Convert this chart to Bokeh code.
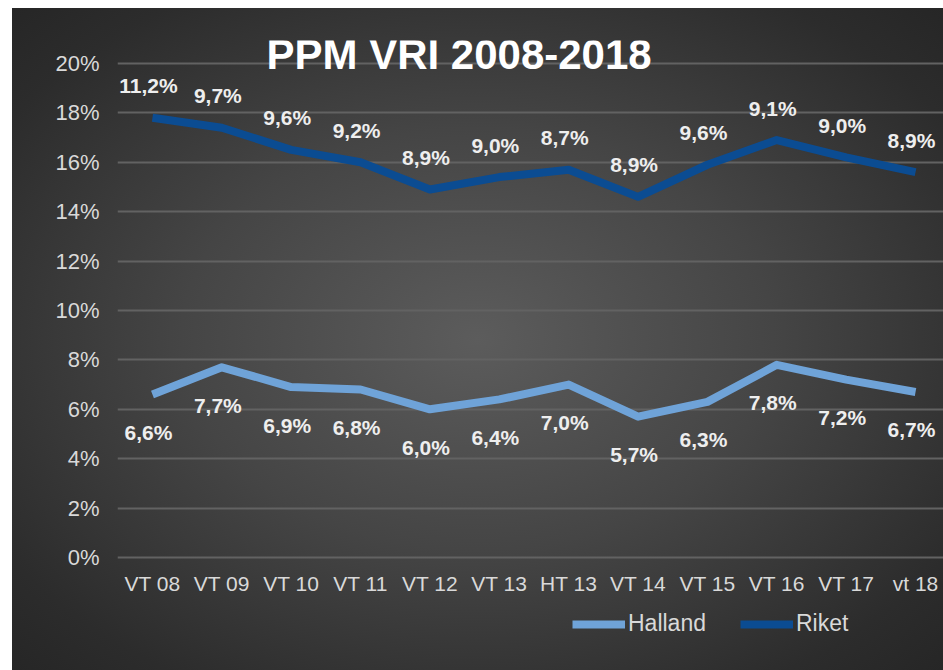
from bokeh.plotting import figure
from bokeh.models import (Range1d, FixedTicker, LabelSet, Label, Legend,
                          ColumnDataSource, PrintfTickFormatter)
from bokeh.core.properties import value
from bokeh.embed import file_html
from bokeh.resources import INLINE

# ---- data ----
categories = ["VT 08", "VT 09", "VT 10", "VT 11", "VT 12", "VT 13",
              "HT 13", "VT 14", "VT 15", "VT 16", "VT 17", "vt 18"]
halland = [6.6, 7.7, 6.9, 6.8, 6.0, 6.4, 7.0, 5.7, 6.3, 7.8, 7.2, 6.7]
riket = [17.8, 17.4, 16.5, 16.0, 14.9, 15.4, 15.7, 14.6, 15.9, 16.9, 16.2, 15.6]
riket_labels = ["11,2%", "9,7%", "9,6%", "9,2%", "8,9%", "9,0%",
                "8,7%", "8,9%", "9,6%", "9,1%", "9,0%", "8,9%"]
halland_labels = [f"{v:.1f}".replace(".", ",") + "%" for v in halland]
y_ticks = list(range(0, 21, 2))
title_text = "PPM VRI 2008-2018"

xs = list(range(len(categories)))

FONT = "Liberation Sans"
TICK_COLOR = "#d9d9d9"

p = figure(width=931, height=662, output_backend="svg", toolbar_location=None,
           x_range=Range1d(-0.504, 11.403), y_range=Range1d(-4.575, 20.93),
           min_border_left=105, min_border_right=0, min_border_top=32,
           min_border_bottom=0)
p.styles = {
    "margin-left": "12px",
    "margin-top": "8px",
    "background": "radial-gradient(ellipse farthest-corner at 50% 50%, "
                  "#5c5c5c 0%, #454545 45%, #2c2c2c 85%, #262626 100%)",
}
p.background_fill_alpha = 0
p.border_fill_alpha = 0
p.outline_line_color = None

# grid
p.xgrid.visible = False
p.ygrid.ticker = FixedTicker(ticks=y_ticks)
p.ygrid.grid_line_color = "#626262"
p.ygrid.grid_line_width = 2

# axes
p.yaxis.ticker = FixedTicker(ticks=y_ticks)
p.yaxis.formatter = PrintfTickFormatter(format="%d%%")
p.xaxis.ticker = FixedTicker(ticks=xs)
p.xaxis.major_label_overrides = {i: c for i, c in zip(xs, categories)}
p.xaxis.fixed_location = 0
for ax in (p.xaxis, p.yaxis):
    ax.axis_line_color = None
    ax.major_tick_line_color = None
    ax.minor_tick_line_color = None
    ax.major_tick_out = 0
    ax.major_tick_in = 0
    ax.major_label_text_color = TICK_COLOR
    ax.major_label_text_font = FONT
    ax.major_label_text_font_size = "21px"
p.yaxis.major_label_text_font_size = "22px"
p.yaxis.major_label_standoff = 18
p.xaxis.major_label_standoff = 15

# lines
src = ColumnDataSource(dict(x=xs, halland=halland, riket=riket,
                            hl=halland_labels, rl=riket_labels))
r_h = p.line("x", "halland", source=src, line_color="#6fa3d8", line_width=8,
             line_join="round")
r_r = p.line("x", "riket", source=src, line_color="#0b4c92", line_width=8,
             line_join="round")

# data labels
for col, lab, off in (("riket", "rl", 32), ("halland", "hl", -38)):
    ls = LabelSet(x="x", y=col, text=lab, source=src, x_offset=-4, y_offset=off,
                  text_align="center", text_baseline="middle",
                  text_font=value(FONT), text_font_size=value("21px"),
                  text_font_style="bold", text_color="#eeeeee")
    p.add_layout(ls)

# title
p.add_layout(Label(x=4.42, y=20.35, text=title_text, text_align="center",
                   text_baseline="middle", text_font=FONT,
                   text_font_size="42px", text_font_style="bold",
                   text_color="#ffffff"))

# legend
legend = Legend(items=[("Halland", [r_h]), ("Riket", [r_r])],
                orientation="horizontal", location=(455, 33),
                background_fill_alpha=0, border_line_color=None,
                label_text_color=TICK_COLOR, label_text_font=FONT,
                label_text_font_size="23px", glyph_width=53, glyph_height=20,
                label_standoff=3, spacing=34, padding=0, margin=0)
p.add_layout(legend, "center")

open("out.html", "w").write(file_html(p, INLINE))
